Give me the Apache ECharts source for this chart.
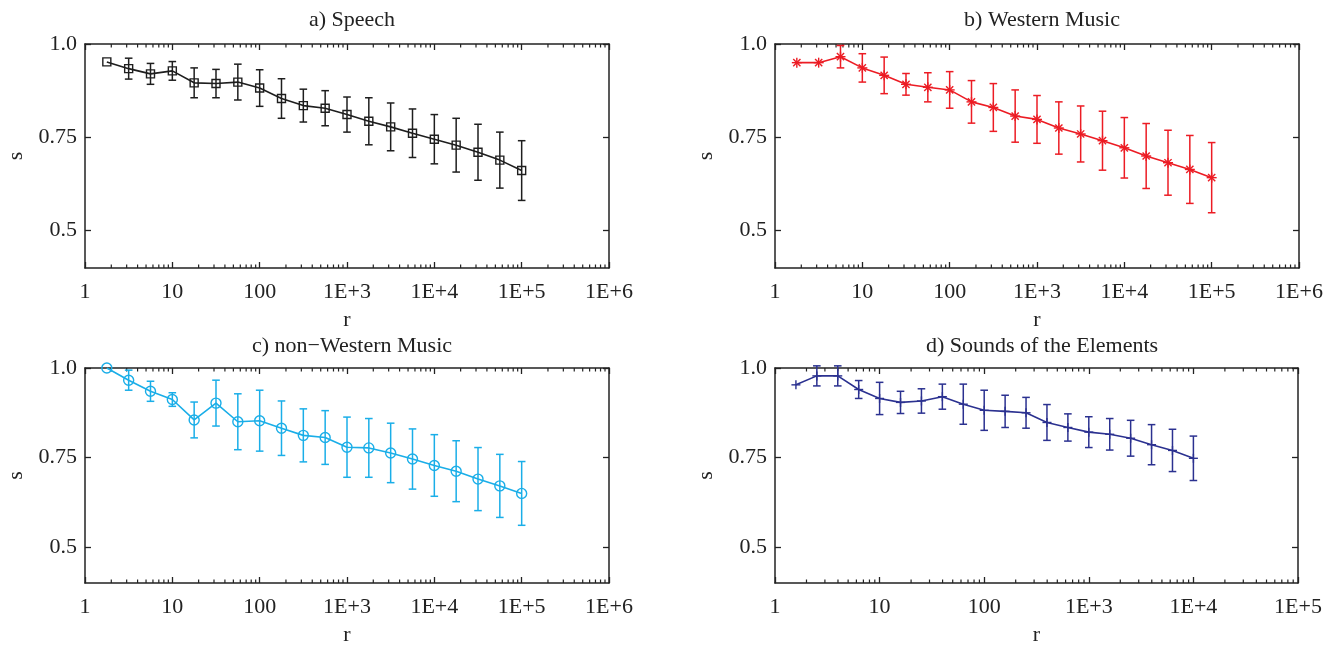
<!DOCTYPE html>
<html><head><meta charset="utf-8">
<script src="https://cdn.jsdelivr.net/npm/echarts@6/dist/echarts.min.js"></script>
<style>html,body{margin:0;padding:0;background:#fff}#c{width:1334px;height:647px}</style>
</head><body><div id="c"></div>
<script>
// ---- data ----
const rQuarter = [1.778, 3.162, 5.623, 10, 17.78, 31.62, 56.23, 100, 177.8, 316.2, 562.3, 1000, 1778, 3162, 5623, 10000, 17783, 31623, 56234, 100000];
const rFifth = [1.585, 2.512, 3.981, 6.310, 10, 15.85, 25.12, 39.81, 63.10, 100, 158.5, 251.2, 398.1, 631.0, 1000, 1585, 2512, 3981, 6310, 10000];

const sSpeech = [0.952,0.934,0.920,0.928,0.896,0.894,0.898,0.882,0.854,0.835,0.828,0.811,0.793,0.778,0.761,0.745,0.729,0.710,0.689,0.661];
const eSpeech = [0,0.028,0.028,0.025,0.040,0.038,0.048,0.049,0.053,0.044,0.047,0.047,0.063,0.064,0.065,0.066,0.072,0.075,0.075,0.080];

const sWestern = [0.950,0.950,0.966,0.936,0.916,0.892,0.884,0.877,0.845,0.830,0.807,0.798,0.775,0.759,0.741,0.722,0.700,0.682,0.664,0.642];
const eWestern = [0,0,0.030,0.038,0.049,0.029,0.039,0.049,0.057,0.064,0.070,0.064,0.070,0.075,0.079,0.081,0.087,0.087,0.091,0.094];

const sNonWestern = [1.0,0.966,0.935,0.912,0.855,0.902,0.850,0.853,0.832,0.812,0.806,0.779,0.777,0.763,0.746,0.728,0.712,0.690,0.671,0.650];
const eNonWestern = [0,0.028,0.028,0.019,0.050,0.064,0.078,0.085,0.076,0.074,0.075,0.084,0.082,0.083,0.084,0.086,0.085,0.088,0.088,0.089];

const sElements = [0.953,0.978,0.978,0.940,0.915,0.904,0.908,0.920,0.899,0.882,0.879,0.875,0.848,0.834,0.821,0.815,0.804,0.786,0.770,0.748];
const eElements = [0,0.028,0.028,0.025,0.045,0.031,0.034,0.035,0.056,0.056,0.045,0.043,0.050,0.038,0.043,0.044,0.050,0.056,0.059,0.062];

const titles = ['a) Speech', 'b) Western Music', 'c) non\u2212Western Music', 'd) Sounds of the Elements'];
const xTickLabels = ['1', '10', '100', '1E+3', '1E+4', '1E+5', '1E+6'];
const yTickVals = [0.5, 0.75, 1.0];
const yTickLabels = ['0.5', '0.75', '1.0'];
const xMax = [1e6, 1e6, 1e6, 1e5];

// ---- layout / style ----
const FONT = 'Liberation Serif';
const FS = 22;
const TXT = '#222';
const grids = [
  {left: 85, top: 44, width: 524, height: 224},
  {left: 775, top: 44, width: 524, height: 224},
  {left: 85, top: 368, width: 524, height: 222},
  {left: 775, top: 368, width: 523, height: 222}
];
const titlePos = [[347, 4], [1037, 4], [347, 330], [1037, 330]];
const panels = [
  {x: rQuarter, s: sSpeech, e: eSpeech, color: '#1e1e1e', marker: 'square'},
  {x: rQuarter, s: sWestern, e: eWestern, color: '#ec1c24', marker: 'star'},
  {x: rQuarter, s: sNonWestern, e: eNonWestern, color: '#1aaee8', marker: 'circle'},
  {x: rFifth, s: sElements, e: eElements, color: '#2b3190', marker: 'plus'}
];

function minorTicks(max) {
  const out = [];
  for (let d = 1; d < max; d *= 10) for (let m = 2; m <= 9; m++) out.push([d * m]);
  return out;
}

const xAxes = [], yAxes = [], series = [], titleOpts = [];
grids.forEach((g, i) => {
  const lineStyle = {color: TXT, width: 1.5};
  xAxes.push({
    gridIndex: i, type: 'log', logBase: 10, min: 1, max: xMax[i], splitNumber: 6, position: 'bottom',
    axisLine: {show: true, onZero: false, lineStyle},
    axisTick: {show: true, inside: true, length: 6, lineStyle: {color: TXT, width: 1.3}},
    axisLabel: {show: true, margin: 13, color: TXT, fontFamily: FONT, fontSize: FS,
      formatter: v => xTickLabels[Math.round(Math.log10(v))]},
    splitLine: {show: false},
    name: 'r', nameLocation: 'middle', nameGap: 41,
    nameTextStyle: {color: TXT, fontFamily: FONT, fontSize: FS}
  });
  xAxes.push({
    gridIndex: i, type: 'log', logBase: 10, min: 1, max: xMax[i], splitNumber: 6, position: 'top',
    axisLine: {show: true, onZero: false, lineStyle},
    axisTick: {show: true, inside: true, length: 6, lineStyle: {color: TXT, width: 1.3}},
    axisLabel: {show: false}, splitLine: {show: false}
  });
  yAxes.push({
    gridIndex: i, type: 'value', min: 0.4, max: 1.0, position: 'left',
    axisLine: {show: true, onZero: false, lineStyle},
    axisTick: {show: true, inside: true, length: 6, customValues: yTickVals, lineStyle: {color: TXT, width: 1.3}},
    axisLabel: {show: true, margin: 8, color: TXT, fontFamily: FONT, fontSize: FS, customValues: yTickVals,
      formatter: v => yTickLabels[yTickVals.findIndex(t => Math.abs(t - v) < 1e-6)]},
    splitLine: {show: false},
    name: 's', nameLocation: 'middle', nameGap: 58,
    nameTextStyle: {color: TXT, fontFamily: FONT, fontSize: FS}
  });
  yAxes.push({
    gridIndex: i, type: 'value', min: 0.4, max: 1.0, position: 'right',
    axisLine: {show: true, onZero: false, lineStyle},
    axisTick: {show: true, inside: true, length: 6, customValues: yTickVals, lineStyle: {color: TXT, width: 1.3}},
    axisLabel: {show: false}, splitLine: {show: false}
  });
  titleOpts.push({
    text: titles[i], left: titlePos[i][0], top: titlePos[i][1], textAlign: 'center',
    textStyle: {color: TXT, fontFamily: FONT, fontSize: FS, fontWeight: 'normal'}
  });

  // minor log ticks (top and bottom, inside)
  series.push({
    type: 'custom', xAxisIndex: 2 * i, yAxisIndex: 2 * i, silent: true, z: 1,
    data: minorTicks(xMax[i]),
    renderItem: (params, api) => {
      const cs = params.coordSys;
      const x = api.coord([api.value(0), 0.7])[0];
      const st = {stroke: TXT, lineWidth: 1.2};
      return {type: 'group', children: [
        {type: 'line', shape: {x1: x, y1: cs.y + cs.height, x2: x, y2: cs.y + cs.height - 3.5}, style: st},
        {type: 'line', shape: {x1: x, y1: cs.y, x2: x, y2: cs.y + 3.5}, style: st}
      ]};
    }
  });

  const p = panels[i];
  // connecting line
  series.push({
    type: 'line', xAxisIndex: 2 * i, yAxisIndex: 2 * i, symbol: 'none', silent: true, z: 2,
    data: p.x.map((x, k) => [x, p.s[k]]),
    lineStyle: {color: p.color, width: 1.6}
  });
  // error bars + markers
  series.push({
    type: 'custom', xAxisIndex: 2 * i, yAxisIndex: 2 * i, silent: true, z: 3,
    data: p.x.map((x, k) => [x, p.s[k], p.e[k]]),
    renderItem: (params, api) => {
      const x = api.value(0), y = api.value(1), e = api.value(2);
      const c = api.coord([x, y]);
      const st = {stroke: p.color, lineWidth: 1.5, fill: 'none'};
      const ch = [];
      if (e > 0) {
        const t = api.coord([x, y + e]), b = api.coord([x, y - e]);
        const cap = 3.8;
        ch.push({type: 'line', shape: {x1: c[0], y1: t[1], x2: c[0], y2: b[1]}, style: st});
        ch.push({type: 'line', shape: {x1: c[0] - cap, y1: t[1], x2: c[0] + cap, y2: t[1]}, style: st});
        ch.push({type: 'line', shape: {x1: c[0] - cap, y1: b[1], x2: c[0] + cap, y2: b[1]}, style: st});
      }
      const ms = {stroke: p.color, lineWidth: 1.4, fill: 'none'};
      if (p.marker === 'square') {
        ch.push({type: 'rect', shape: {x: c[0] - 4, y: c[1] - 4, width: 8, height: 8}, style: ms});
      } else if (p.marker === 'circle') {
        ch.push({type: 'circle', shape: {cx: c[0], cy: c[1], r: 5}, style: ms});
      } else if (p.marker === 'plus') {
        ch.push({type: 'line', shape: {x1: c[0] - 4.5, y1: c[1], x2: c[0] + 4.5, y2: c[1]}, style: ms});
        ch.push({type: 'line', shape: {x1: c[0], y1: c[1] - 4.5, x2: c[0], y2: c[1] + 4.5}, style: ms});
      } else {
        const r = 5, d = 3.6;
        ch.push({type: 'line', shape: {x1: c[0] - r, y1: c[1], x2: c[0] + r, y2: c[1]}, style: ms});
        ch.push({type: 'line', shape: {x1: c[0], y1: c[1] - r, x2: c[0], y2: c[1] + r}, style: ms});
        ch.push({type: 'line', shape: {x1: c[0] - d, y1: c[1] - d, x2: c[0] + d, y2: c[1] + d}, style: ms});
        ch.push({type: 'line', shape: {x1: c[0] - d, y1: c[1] + d, x2: c[0] + d, y2: c[1] - d}, style: ms});
      }
      return {type: 'group', children: ch};
    }
  });
});

const chart = echarts.init(document.getElementById('c'), null, {renderer: 'canvas'});
chart.setOption({
  backgroundColor: '#fff',
  animation: false,
  title: titleOpts,
  grid: grids.map(g => Object.assign({containLabel: false}, g)),
  xAxis: xAxes,
  yAxis: yAxes,
  series: series
});
</script>
</body></html>
